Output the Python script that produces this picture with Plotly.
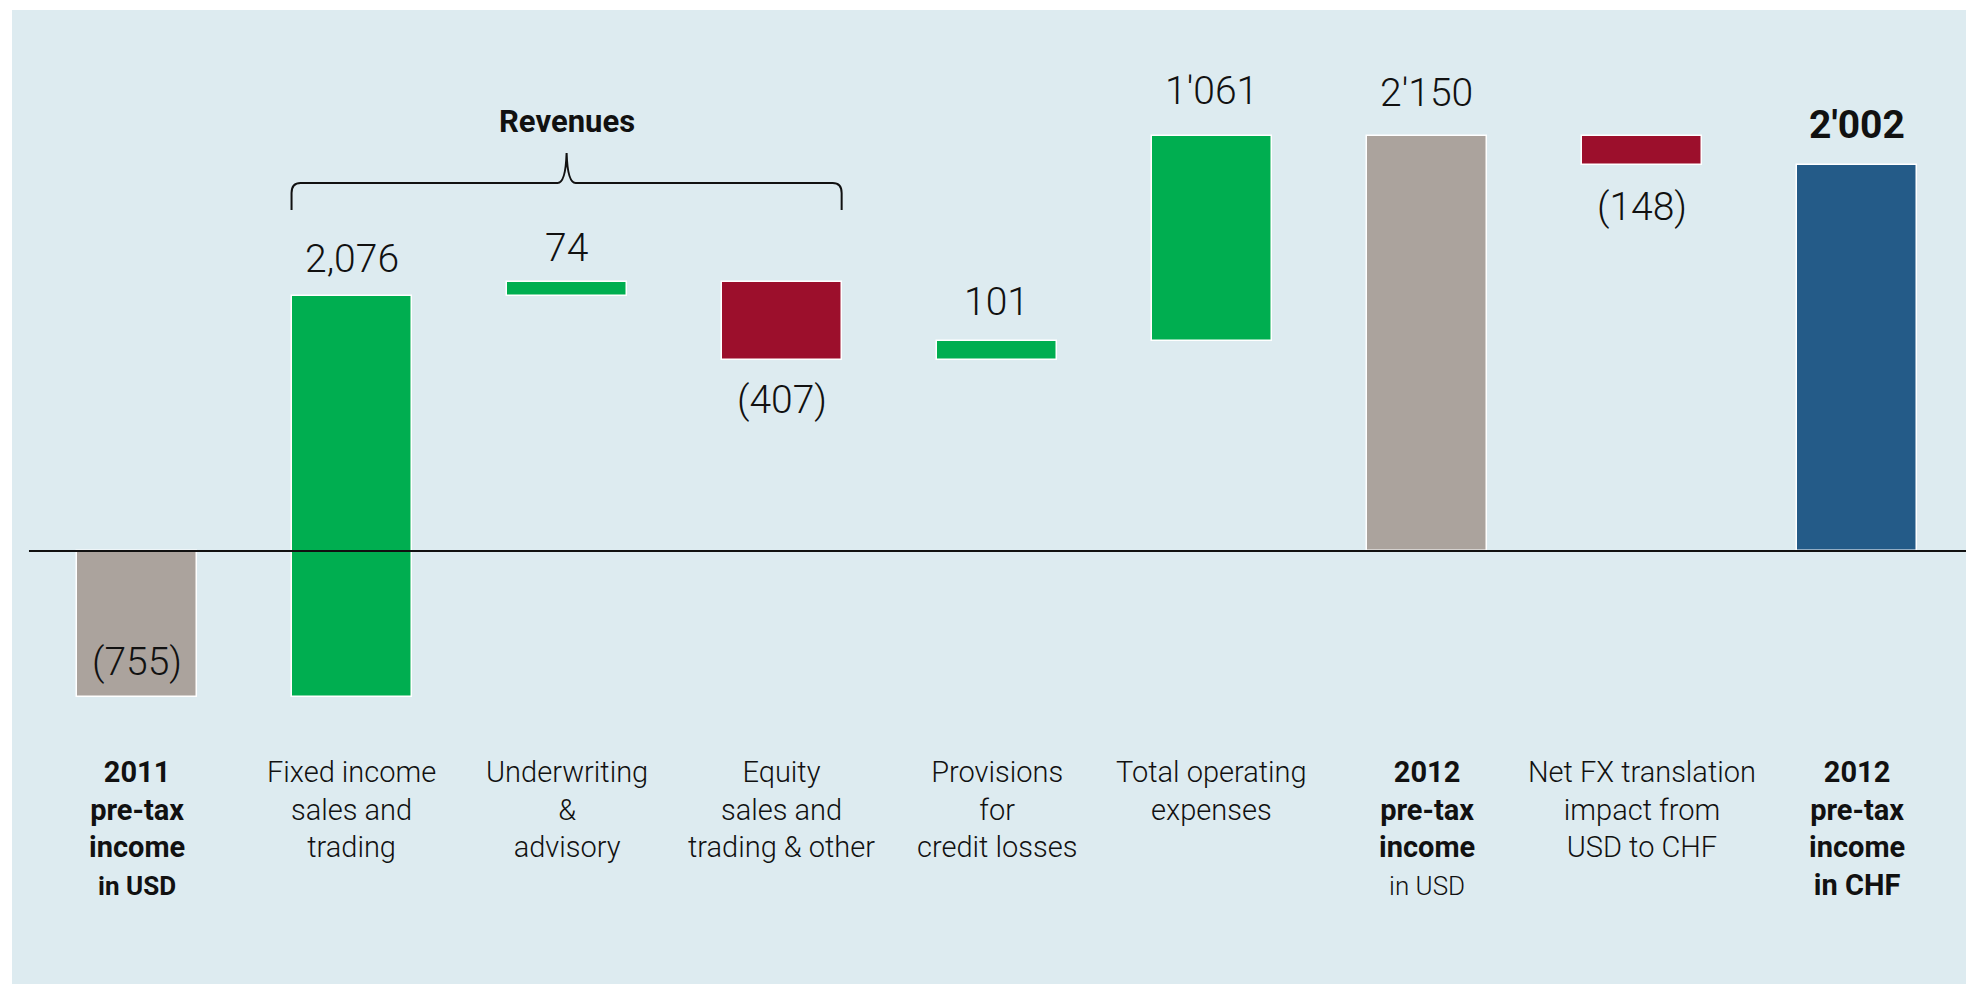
import numpy as np
import plotly.graph_objects as go

# ---- data ---------------------------------------------------------------
categories = [
    "<b>2011</b><br><b>pre-tax</b><br><b>income</b><br><b><span style='font-size:26px'>in USD</span></b>",
    "Fixed income<br>sales and<br>trading",
    "Underwriting<br>&amp;<br>advisory",
    "Equity<br>sales and<br>trading &amp; other",
    "Provisions<br>for<br>credit losses",
    "Total operating<br>expenses",
    "<b>2012</b><br><b>pre-tax</b><br><b>income</b><br><span style='font-size:26px'>in USD</span>",
    "Net FX translation<br>impact from<br>USD to CHF",
    "<b>2012</b><br><b>pre-tax</b><br><b>income</b><br><b>in CHF</b>",
]
measures = ["absolute", "relative", "relative", "relative", "relative",
            "relative", "total", "relative", "total"]
values = [-755, 2076, 74, -407, 101, 1061, 2150, -148, 2002]
value_labels = ["(755)", "2,076", "74", "(407)", "101", "1'061", "2'150",
                "(148)", "<b>2'002</b>"]
group_label = "Revenues"
group_span = (1, 3)  # first and last bar covered by the brace

# ---- styling ------------------------------------------------------------
GREEN = "#00AE50"
RED = "#9C0F2C"
GRAY = "#ABA39D"
BLUE = "#245B88"
PANEL = "#DDEBF0"
FONT = "Roboto"

W, H = 1966, 986
PLOT_L, PLOT_T = 12, 10
PLOT_W, PLOT_H = W - PLOT_L, 974
STEP_PX = 215.05            # pixels between bar centres
FIRST_PX = 136.5            # centre of the first bar
ZERO_PX = 551               # vertical position of the zero line
UNIT_PX = 0.193             # pixels per unit of value
BAR_W = 0.558

x_min = (PLOT_L - FIRST_PX) / STEP_PX
x_max = x_min + PLOT_W / STEP_PX
y_max = (ZERO_PX - PLOT_T) / UNIT_PX
y_min = -(PLOT_T + PLOT_H - ZERO_PX) / UNIT_PX


def py(y_px):
    """figure pixel row -> paper y"""
    return 1 - (y_px - PLOT_T) / PLOT_H


def dx(px):
    """pixel width -> data width on x"""
    return px / STEP_PX


# ---- waterfall geometry from the values --------------------------------
bases, heights, colors = [], [], []
running = 0
for i, (m, v) in enumerate(zip(measures, values)):
    if m in ("absolute", "total"):
        base, h = 0, v
        running = v
    else:
        base, h = running, v
        running += v
    bases.append(base)
    heights.append(h)
    if m == "relative":
        colors.append(GREEN if v >= 0 else RED)
    else:
        colors.append(GRAY)
colors[-1] = BLUE

x = np.arange(len(values))
bases = np.array(bases, dtype=float)
heights = np.array(heights, dtype=float)
tops = np.maximum(bases, bases + heights)
bottoms = np.minimum(bases, bases + heights)

fig = go.Figure()
fig.add_trace(go.Bar(
    x=x, y=heights, base=bases, width=BAR_W,
    marker=dict(color=colors, line=dict(color="white", width=1.5)),
    hoverinfo="skip", showlegend=False,
))

# zero line
fig.add_shape(type="line", xref="x", yref="y", x0=-0.5, x1=x_max, y0=0, y1=0,
              line=dict(color="#111111", width=2), layer="above")

# value labels: (anchor edge, pixel shift)
label_pos = [("bottom", 35), ("top", 37), ("top", 34), ("bottom", -40),
             ("top", 39), ("top", 45), ("top", 43), ("bottom", -42), ("top", 40)]
for i, (lab, (edge, shift)) in enumerate(zip(value_labels, label_pos)):
    yv = tops[i] if edge == "top" else bottoms[i]
    fig.add_annotation(x=x[i], y=yv, xref="x", yref="y", text=lab,
                       showarrow=False, yshift=shift, yanchor="middle",
                       font=dict(family=FONT, size=39, color="#111111", weight=300))

# category labels
for i, cat in enumerate(categories):
    fig.add_annotation(x=x[i], y=py(753), xref="x", yref="paper", text=cat,
                       showarrow=False, yanchor="top", align="center",
                       font=dict(family=FONT, size=29, color="#111111", weight=300))

# brace over the revenue items
bl = group_span[0] - BAR_W / 2
br = group_span[1] + BAR_W / 2
bm = (bl + br) / 2
r = dx(9)
y_line, y_end, y_tip, y_corner = py(183), py(210), py(153), py(193)
path = (
    f"M {bl},{y_end} L {bl},{y_corner} Q {bl},{y_line} {bl + r},{y_line} "
    f"L {bm - r},{y_line} Q {bm - dx(1)},{y_line} {bm},{y_tip} "
    f"Q {bm + dx(1)},{y_line} {bm + r},{y_line} "
    f"L {br - r},{y_line} Q {br},{y_line} {br},{y_corner} L {br},{y_end}"
)
fig.add_shape(type="path", xref="x", yref="paper", path=path,
              line=dict(color="#111111", width=2))
fig.add_annotation(x=bm, y=py(121), xref="x", yref="paper", text=f"<b>{group_label}</b>",
                   showarrow=False, yanchor="middle",
                   font=dict(family=FONT, size=31, color="#111111"))

fig.update_layout(
    width=W, height=H,
    margin=dict(l=PLOT_L, r=0, t=PLOT_T, b=H - PLOT_T - PLOT_H),
    paper_bgcolor="white", plot_bgcolor=PANEL,
    xaxis=dict(range=[x_min, x_max], visible=False, fixedrange=True),
    yaxis=dict(range=[y_min, y_max], visible=False, fixedrange=True),
    bargap=0,
)

fig.write_html("out.html")
